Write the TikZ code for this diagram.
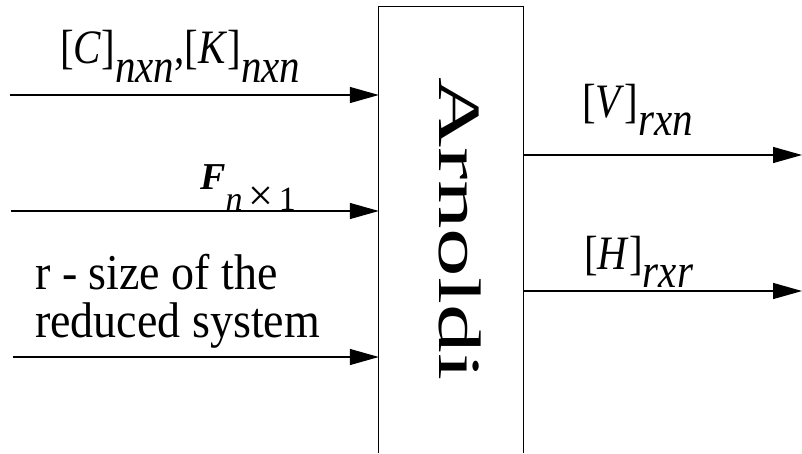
\documentclass[tikz,border=0pt]{standalone}
\usepackage{fontspec}
\setmainfont{Liberation Serif}
\usetikzlibrary{arrows.meta}

\begin{document}
\begin{tikzpicture}[x=1pt,y=-1pt,
  line/.style={line width=1.3pt},
  arr/.style={line, -{Triangle[length=29pt,width=16pt]}},
  lbl/.style={inner sep=0pt, anchor=base west},
  mathlbl/.style={lbl, font=\fontsize{41}{48}\selectfont},
  txtlbl/.style={lbl, font=\fontsize{46}{48}\selectfont}]
\useasboundingbox (0,0) rectangle (802,453);

% central block (open at the bottom)
\node[minimum width=144pt, minimum height=446pt, inner sep=0pt] (box) at (451,230) {};
\draw[line] (box.south west) -- (box.north west) -- (box.north east) -- (box.south east);
\node[rotate=-90, inner sep=0pt, font=\fontsize{60}{60}\selectfont] (title) at (460,229)
  {\scalebox{1.62}[1]{Arnoldi}};

% inputs
\coordinate (in1) at (10,95);
\coordinate (in2) at (11,211);
\coordinate (in3) at (13,357);
\draw[arr] (in1) -- (box.west |- in1);
\draw[arr] (in2) -- (box.west |- in2);
\draw[arr] (in3) -- (box.west |- in3);

% outputs
\coordinate (out1) at (802,155);
\coordinate (out2) at (802,291);
\draw[arr] (box.east |- out1) -- (out1);
\draw[arr] (box.east |- out2) -- (out2);

% labels
\node[mathlbl] (lCK) at (60,63)
  {\scalebox{1}[1.17]{[\textit{C}]\raisebox{-17pt}{\textit{nxn}},[\textit{K}]\raisebox{-17pt}{\textit{nxn}}}};
\node[lbl, font=\fontsize{38}{40}\selectfont] (lF) at (200,189)
  {\textbf{\textit{F}}\raisebox{-21pt}{\fontsize{34}{36}\selectfont\textit{n}\,\scalebox{1.3}{×}\,1}};
\node[txtlbl] (lr1) at (35,289) {\scalebox{1}[1.09]{r - size of the}};
\node[txtlbl] (lr2) at (35,337) {\scalebox{1}[1.09]{reduced system}};
\node[mathlbl] (lV) at (582,117)
  {\scalebox{1}[1.17]{[\textit{V}]\raisebox{-16pt}{\textit{rxn}}}};
\node[mathlbl] (lH) at (584,269)
  {\scalebox{1}[1.17]{[\textit{H}]\raisebox{-16pt}{\textit{rxr}}}};
\end{tikzpicture}
\end{document}
